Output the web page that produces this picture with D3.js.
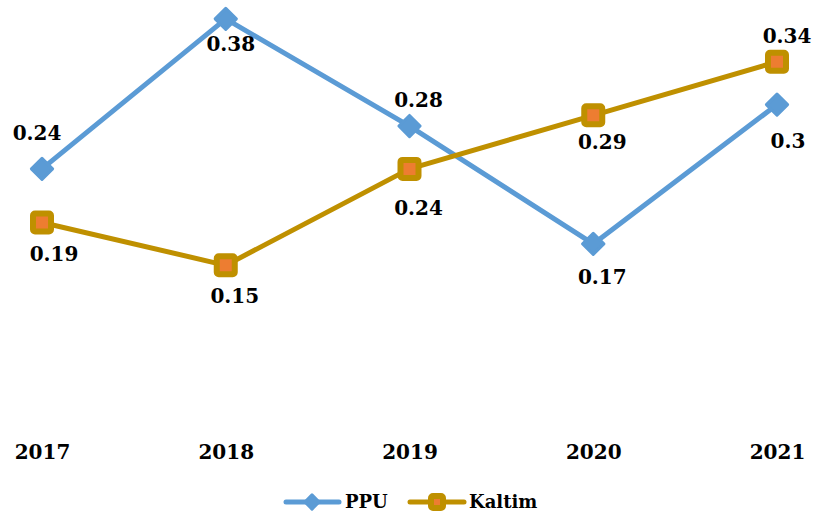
<!DOCTYPE html>
<html><head><meta charset="utf-8">
<script src="https://cdn.jsdelivr.net/npm/d3@7/dist/d3.min.js"></script>
<style>body{margin:0;background:#fff}svg{display:block}</style>
</head><body>
<script>
const years = ["2017","2018","2019","2020","2021"];
const ppu = [0.24, 0.38, 0.28, 0.17, 0.30];
const kaltim = [0.19, 0.15, 0.24, 0.29, 0.34];
const ppuLabels = ["0.24","0.38","0.28","0.17","0.3"];
const kaltimLabels = ["0.19","0.15","0.24","0.29","0.34"];

const W = 813, H = 513;
const FONT = "'DejaVu Serif', serif";
const svg = d3.select("body").append("svg").attr("width", W).attr("height", H);

const x = d3.scalePoint().domain(years).range([42, 777]);
const y = d3.scaleLinear().domain([0, 0.4]).range([426, -2.5]);

const blue = "#5B9BD5", gold = "#BF9000", orange = "#ED7D31";

// label placement offsets (style, relative to each point)
const ppuOffset = [[-5,-36],[5,25],[9,-26],[9,33],[11,36]];
const kaltimOffset = [[12,32],[9,31],[9,39],[9,27],[10,-26]];

const line = d3.line().x((d,i)=>x(years[i])).y(d=>y(d));

const ax = svg.append("g").attr("transform","translate(0,452)")
  .call(d3.axisBottom(x).tickSize(0).tickPadding(0));
ax.select(".domain").remove();
ax.selectAll("text").attr("font-family",FONT).attr("font-weight","bold")
  .attr("font-size",20).attr("fill","#000").attr("dy","0.35em").attr("y",0);

function diamond(g, cx, cy, s){
  g.append("rect").attr("x",cx-s/2).attr("y",cy-s/2).attr("width",s).attr("height",s)
   .attr("transform",`rotate(45,${cx},${cy})`)
   .attr("fill",blue).attr("stroke",blue).attr("stroke-width",3).attr("stroke-linejoin","round");
}
function square(g, cx, cy, s){
  g.append("rect").attr("x",cx-s/2).attr("y",cy-s/2).attr("width",s).attr("height",s).attr("rx",2)
   .attr("fill",orange).attr("stroke",gold).attr("stroke-width",6).attr("stroke-linejoin","round");
}

svg.append("path").datum(ppu).attr("d",line).attr("fill","none")
  .attr("stroke",blue).attr("stroke-width",5).attr("stroke-linejoin","round");
svg.append("path").datum(kaltim).attr("d",line).attr("fill","none")
  .attr("stroke",gold).attr("stroke-width",5).attr("stroke-linejoin","round");

const mk = svg.append("g");
ppu.forEach((v,i)=>diamond(mk, x(years[i]), y(v), 15));
kaltim.forEach((v,i)=>square(mk, x(years[i]), y(v), 18));

const lbl = svg.append("g").attr("font-family",FONT).attr("font-weight","bold")
  .attr("font-size",20).attr("fill","#000").attr("text-anchor","middle");
function labels(vals, texts, offs){
  vals.forEach((v,i)=>{
    lbl.append("text").attr("x", x(years[i]) + offs[i][0]).attr("y", y(v) + offs[i][1])
      .attr("dy","0.35em").text(texts[i]);
  });
}
labels(ppu, ppuLabels, ppuOffset);
labels(kaltim, kaltimLabels, kaltimOffset);

const lg = svg.append("g").attr("font-family",FONT).attr("font-weight","bold")
  .attr("font-size",18).attr("fill","#000");
const ly = 502;
lg.append("line").attr("x1",286).attr("x2",339).attr("y1",ly).attr("y2",ly)
  .attr("stroke",blue).attr("stroke-width",5).attr("stroke-linecap","round");
diamond(lg, 312, ly, 10);
lg.append("text").attr("x",345).attr("y",ly).attr("dy","0.35em").text("PPU");
lg.append("line").attr("x1",410).attr("x2",464).attr("y1",ly).attr("y2",ly)
  .attr("stroke",gold).attr("stroke-width",5).attr("stroke-linecap","round");
square(lg, 437, ly, 12);
lg.append("text").attr("x",469).attr("y",ly).attr("dy","0.35em").text("Kaltim");
</script>
</body></html>
